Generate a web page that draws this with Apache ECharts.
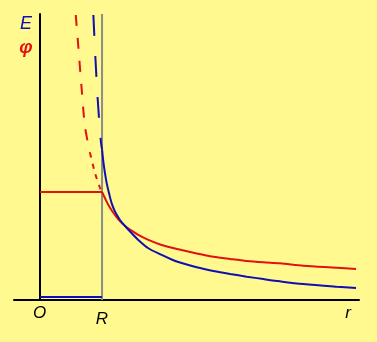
<!DOCTYPE html>
<html>
<head>
<meta charset="utf-8">
<script src="https://cdn.jsdelivr.net/npm/echarts@6/dist/echarts.min.js"></script>
<style>
html,body{margin:0;padding:0;background:#fff98f;}
#c{width:377px;height:342px;}
</style>
</head>
<body>
<div id="c"></div>
<script>
// r in units of R, values in units of phi(R)
var rPhiOut = [1.0, 1.048, 1.102, 1.182, 1.263, 1.371, 1.479, 1.585, 1.747, 1.963, 2.231, 2.527, 2.795, 3.065, 3.334, 3.602, 3.871, 4.247, 4.785, 5.097];
var phiOut  = [1.0, 0.942, 0.880, 0.808, 0.747, 0.685, 0.642, 0.602, 0.556, 0.509, 0.469, 0.431, 0.401, 0.380, 0.361, 0.349, 0.340, 0.318, 0.299, 0.287];

var rEOut = [1.0, 1.021, 1.048, 1.076, 1.113, 1.156, 1.210, 1.290, 1.371, 1.479, 1.585, 1.747, 1.963, 2.124, 2.258, 2.527, 2.795, 3.065, 3.334, 3.602, 3.871, 4.247, 4.785, 5.097];
var eOut  = [1.394, 1.281, 1.173, 1.080, 0.988, 0.895, 0.818, 0.741, 0.685, 0.618, 0.556, 0.479, 0.417, 0.375, 0.347, 0.303, 0.269, 0.241, 0.216, 0.194, 0.173, 0.148, 0.123, 0.111];

var rPhiIn = [0.576, 0.618, 0.673, 0.726, 0.806, 0.887, 0.968, 1.0];
var phiIn  = [2.639, 2.343, 1.944, 1.602, 1.361, 1.176, 1.037, 1.0];

var rEIn = [0.860, 0.895, 0.931, 0.979, 1.0];
var eIn  = [2.639, 2.222, 1.852, 1.481, 1.394];

var rInside = [0, 1];
var phiInside = [1.0, 1.0];
var eInside = [0.028, 0.028];

var rLine = [1, 1];
var yLine = [0, 2.648];

function pts(xs, ys){ return xs.map(function(x,i){ return [x, ys[i]]; }); }

var RED = '#e01212', BLUE = '#1010b0', GRAY = '#8c8c8c';

var chart = echarts.init(document.getElementById('c'));
var italic = {fontStyle:'italic', fontFamily:'Liberation Sans, Arial, sans-serif'};
chart.setOption({
  backgroundColor: '#fff98f',
  animation: false,
  grid: {left: 14, right: 18, top: 14, bottom: 42},
  xAxis: {type:'value', min:-0.42, max:5.145,
    axisLine:{show:true, onZero:true, lineStyle:{color:'#000', width:2}},
    axisTick:{show:false}, axisLabel:{show:false}, splitLine:{show:false}},
  yAxis: {type:'value', min:0, max:2.648,
    axisLine:{show:true, onZero:true, lineStyle:{color:'#000', width:2}},
    axisTick:{show:false}, axisLabel:{show:false}, splitLine:{show:false}},
  series: [
    {type:'line', data:pts(rLine, yLine), showSymbol:false, z:1,
      lineStyle:{color:GRAY, width:2}},
    {type:'line', data:pts(rInside, eInside), showSymbol:false, z:2,
      lineStyle:{color:BLUE, width:2}},
    {type:'line', data:pts(rInside, phiInside), showSymbol:false, z:2,
      lineStyle:{color:RED, width:2}},
    {type:'line', data:pts(rPhiOut, phiOut), showSymbol:false, smooth:0.3, z:3,
      lineStyle:{color:RED, width:2}},
    {type:'line', data:pts(rEOut, eOut), showSymbol:false, smooth:0.3, z:3,
      lineStyle:{color:BLUE, width:2}},
    {type:'line', data:pts(rPhiIn.slice(0,5), phiIn.slice(0,5)), showSymbol:false, smooth:0.3, z:3,
      lineStyle:{color:RED, width:2, type:[11,12]}},
    {type:'line', data:pts(rPhiIn.slice(4), phiIn.slice(4)), showSymbol:false, smooth:0.3, z:3,
      lineStyle:{color:RED, width:2, type:[5,6]}},
    {type:'line', data:pts(rEIn, eIn), showSymbol:false, smooth:0.3, z:3,
      lineStyle:{color:BLUE, width:2, type:[21,20]}}
  ],
  graphic: [
    {type:'text', x:26, y:24, style:Object.assign({text:'E', fill:BLUE, fontSize:18, align:'center', verticalAlign:'middle'}, italic)},
    {type:'text', x:26, y:48, style:Object.assign({text:'φ', fill:RED, fontSize:19, fontWeight:'bold', align:'center', verticalAlign:'middle'}, italic)},
    {type:'text', x:39.5, y:313, style:Object.assign({text:'O', fill:'#000', fontSize:17, align:'center', verticalAlign:'middle'}, italic)},
    {type:'text', x:102, y:319, style:Object.assign({text:'R', fill:'#000', fontSize:17, align:'center', verticalAlign:'middle'}, italic)},
    {type:'text', x:348, y:313, style:Object.assign({text:'r', fill:'#000', fontSize:17, align:'center', verticalAlign:'middle'}, italic)}
  ]
});
</script>
</body>
</html>
